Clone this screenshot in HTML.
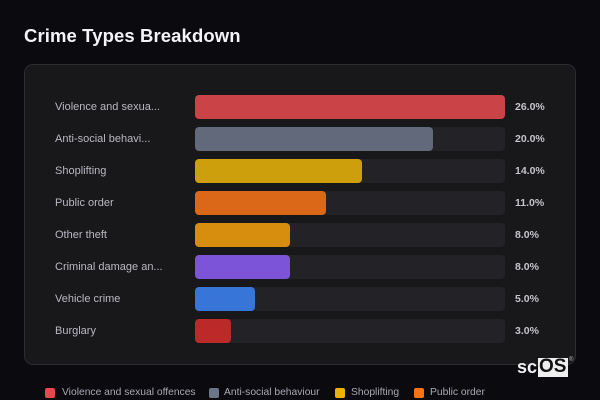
<!DOCTYPE html>
<html><head><meta charset="utf-8"><style>
*{margin:0;padding:0;box-sizing:border-box}
html,body{width:600px;height:400px;background:#0b0a0f;overflow:hidden;font-family:"Liberation Sans",sans-serif}
.t{position:absolute;left:24px;top:25px;font-size:18.5px;font-weight:bold;color:#f4f4f6;letter-spacing:0.1px}
.card{position:absolute;left:24px;top:64px;width:552px;height:301px;background:#18181b;border:1px solid #2c2c31;border-radius:9px}
.lbl{position:absolute;left:55px;font-size:11px;color:#b9b9c1;line-height:24px;height:24px}
.trk{position:absolute;left:195px;width:310px;height:24px;background:#232327;border-radius:4px}
.bar{position:absolute;left:0;top:0;height:24px;border-radius:4px;opacity:0.86}
.pct{position:absolute;left:515px;font-size:10.5px;font-weight:bold;color:#c4c4ca;line-height:24px;height:24px}
.lg{position:absolute;top:386px;font-size:10.3px;color:#a9a9b2;line-height:14px}
.sq{position:absolute;top:388px;width:10px;height:10px;border-radius:2px}
</style></head><body>
<div class="t">Crime Types Breakdown</div>
<div class="card"></div>

<div class="lbl" style="top:95px">Violence and sexua...</div>
<div class="trk" style="top:95px"><div class="bar" style="width:310px;background:#e5484d"></div></div>
<div class="pct" style="top:95px">26.0%</div>

<div class="lbl" style="top:127px">Anti-social behavi...</div>
<div class="trk" style="top:127px"><div class="bar" style="width:238px;background:#6b7588"></div></div>
<div class="pct" style="top:127px">20.0%</div>

<div class="lbl" style="top:159px">Shoplifting</div>
<div class="trk" style="top:159px"><div class="bar" style="width:167px;background:#eab308"></div></div>
<div class="pct" style="top:159px">14.0%</div>

<div class="lbl" style="top:191px">Public order</div>
<div class="trk" style="top:191px"><div class="bar" style="width:131px;background:#f97316"></div></div>
<div class="pct" style="top:191px">11.0%</div>

<div class="lbl" style="top:223px">Other theft</div>
<div class="trk" style="top:223px"><div class="bar" style="width:95px;background:#f59e0b"></div></div>
<div class="pct" style="top:223px">8.0%</div>

<div class="lbl" style="top:255px">Criminal damage an...</div>
<div class="trk" style="top:255px"><div class="bar" style="width:95px;background:#8b5cf6"></div></div>
<div class="pct" style="top:255px">8.0%</div>

<div class="lbl" style="top:287px">Vehicle crime</div>
<div class="trk" style="top:287px"><div class="bar" style="width:60px;background:#3b82f6"></div></div>
<div class="pct" style="top:287px">5.0%</div>

<div class="lbl" style="top:319px">Burglary</div>
<div class="trk" style="top:319px"><div class="bar" style="width:36px;background:#d42a2a"></div></div>
<div class="pct" style="top:319px">3.0%</div>

<div style="position:absolute;left:517px;top:356px;font-size:18px;font-weight:bold;color:#f0f0f0;line-height:22px">sc</div>
<div style="position:absolute;left:538px;top:358px;width:30px;height:19px;background:#eeeeee"></div>
<div style="position:absolute;left:539px;top:356px;font-size:19px;font-weight:bold;color:#111;line-height:22px">OS</div>
<div style="position:absolute;left:569px;top:357px;font-size:6px;color:#bbb">®</div>

<div class="sq" style="left:45px;background:#e5484d"></div><div class="lg" style="left:62px">Violence and sexual offences</div>
<div class="sq" style="left:209px;background:#6b7588"></div><div class="lg" style="left:224px">Anti-social behaviour</div>
<div class="sq" style="left:335px;background:#eab308"></div><div class="lg" style="left:351px">Shoplifting</div>
<div class="sq" style="left:414px;background:#f97316"></div><div class="lg" style="left:430px">Public order</div>
</body></html>
